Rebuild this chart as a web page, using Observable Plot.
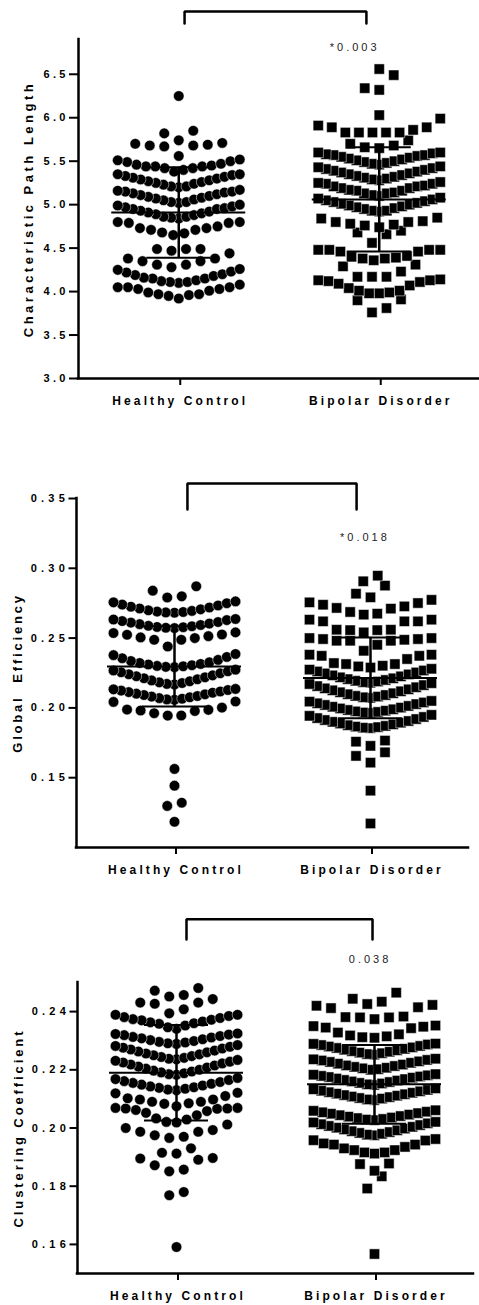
<!DOCTYPE html>
<html>
<head>
<meta charset="utf-8">
<script src="https://cdn.jsdelivr.net/npm/d3@7"></script>
<script src="https://cdn.jsdelivr.net/npm/@observablehq/plot@0.6"></script>
<style>
  body { margin: 0; background: #fff; }
  #root { width: 479px; }
  #root svg { display: block; }
</style>
</head>
<body>
<div id="root"></div>
<script>
// ---------- data ----------
const groups = ["Healthy Control", "Bipolar Disorder"];

const hcCPL = [
  3.92, 3.95, 3.96, 3.97, 3.97, 3.99, 4.01, 4.03, 4.03, 4.05, 4.05, 4.05, 4.08,
  4.10, 4.11, 4.11, 4.12, 4.13, 4.15, 4.15, 4.16, 4.18, 4.19, 4.20, 4.22, 4.23, 4.25, 4.26,
  4.28, 4.31, 4.31, 4.35, 4.35, 4.38, 4.38, 4.44,
  4.47, 4.49, 4.49, 4.49,
  4.65, 4.67, 4.68, 4.71, 4.71, 4.73, 4.73, 4.75, 4.79, 4.79, 4.80, 4.80,
  4.84, 4.85, 4.86, 4.86, 4.88, 4.89, 4.90, 4.91, 4.92, 4.93, 4.95, 4.95, 4.96, 4.97, 4.98, 4.99, 5.00,
  5.02, 5.03, 5.03, 5.05, 5.06, 5.07, 5.08, 5.09, 5.10, 5.11, 5.12, 5.13, 5.14, 5.15, 5.15, 5.16, 5.17,
  5.20, 5.21, 5.21, 5.23, 5.24, 5.25, 5.26, 5.27, 5.28, 5.29, 5.30, 5.31, 5.32, 5.33, 5.34, 5.35, 5.35,
  5.38, 5.40, 5.42, 5.42, 5.44, 5.44, 5.44, 5.45, 5.46, 5.47, 5.49, 5.50, 5.51, 5.52,
  5.56, 5.67, 5.68, 5.68, 5.69, 5.70, 5.71,
  5.74, 5.82, 5.85,
  6.25
];
const bdCPL = [
  3.76, 3.81, 3.90, 3.91,
  3.98, 3.98, 3.99, 4.01, 4.01, 4.04, 4.07, 4.09, 4.11, 4.12, 4.13, 4.13, 4.14,
  4.17, 4.17, 4.17, 4.23, 4.29, 4.31,
  4.36, 4.38, 4.38, 4.39, 4.40, 4.41, 4.46, 4.46, 4.48, 4.48, 4.48, 4.48,
  4.56, 4.66, 4.68, 4.70,
  4.74, 4.76, 4.77, 4.78, 4.80, 4.80, 4.81, 4.84, 4.85,
  4.92, 4.93, 4.93, 4.95, 4.96, 4.97, 4.98, 4.99, 5.00, 5.01, 5.02, 5.03, 5.04, 5.05, 5.06, 5.07, 5.08,
  5.10, 5.11, 5.13, 5.13, 5.14, 5.16, 5.16, 5.17, 5.19, 5.19, 5.21, 5.21, 5.22, 5.24, 5.24, 5.25, 5.26,
  5.28, 5.29, 5.30, 5.31, 5.32, 5.33, 5.34, 5.35, 5.36, 5.37, 5.38, 5.39, 5.40, 5.41, 5.42, 5.43, 5.44,
  5.46, 5.47, 5.48, 5.49, 5.50, 5.51, 5.52, 5.53, 5.54, 5.55, 5.56, 5.57, 5.57, 5.58, 5.59, 5.60, 5.60,
  5.65, 5.66, 5.68, 5.70, 5.74,
  5.83, 5.83, 5.83, 5.83, 5.83, 5.86, 5.89, 5.89, 5.91, 5.99,
  6.03, 6.32, 6.34, 6.49, 6.56
];

const hcGE = [
  0.1184, 0.1298, 0.1321, 0.1443, 0.1563,
  0.1945, 0.1946, 0.1962, 0.1978, 0.1981, 0.1986, 0.1988, 0.2002, 0.2043, 0.2046,
  0.2058, 0.2061, 0.2066, 0.2070, 0.2076, 0.2081, 0.2085, 0.2092, 0.2097, 0.2102, 0.2109, 0.2113, 0.2118, 0.2124, 0.2128, 0.2133, 0.2136,
  0.2168, 0.2172, 0.2178, 0.2183, 0.2191, 0.2197, 0.2205, 0.2212, 0.2219, 0.2227, 0.2233, 0.2241, 0.2248, 0.2255, 0.2262, 0.2268, 0.2274,
  0.2292, 0.2294, 0.2298, 0.2301, 0.2306, 0.2311, 0.2315, 0.2322, 0.2327, 0.2336, 0.2344, 0.2356, 0.2365, 0.2378, 0.2386,
  0.2440, 0.2488, 0.2488, 0.2500, 0.2505, 0.2514, 0.2524, 0.2526, 0.2536, 0.2541,
  0.2572, 0.2574, 0.2578, 0.2580, 0.2585, 0.2588, 0.2594, 0.2600, 0.2604, 0.2611, 0.2615, 0.2622, 0.2629, 0.2633, 0.2637,
  0.2682, 0.2684, 0.2687, 0.2690, 0.2695, 0.2699, 0.2706, 0.2712, 0.2719, 0.2725, 0.2734, 0.2740, 0.2750, 0.2756, 0.2763,
  0.2791, 0.2799, 0.2840, 0.2871
];
const bdGE = [
  0.1172, 0.1407, 0.1608, 0.1656, 0.1682, 0.1728, 0.1758, 0.1766,
  0.1855, 0.1858, 0.1862, 0.1866, 0.1871, 0.1876, 0.1882, 0.1888, 0.1894, 0.1900, 0.1906, 0.1913, 0.1920, 0.1927, 0.1935, 0.1943, 0.1950,
  0.1964, 0.1967, 0.1971, 0.1975, 0.1980, 0.1985, 0.1990, 0.1996, 0.2002, 0.2008, 0.2014, 0.2021, 0.2027, 0.2033, 0.2039, 0.2045, 0.2050,
  0.2072, 0.2076, 0.2081, 0.2086, 0.2092, 0.2098, 0.2105, 0.2112, 0.2119, 0.2126, 0.2133, 0.2140, 0.2148, 0.2156, 0.2163, 0.2171, 0.2177,
  0.2180, 0.2184, 0.2189, 0.2194, 0.2200, 0.2206, 0.2212, 0.2219, 0.2226, 0.2233, 0.2240, 0.2247, 0.2254, 0.2261, 0.2268, 0.2274, 0.2280,
  0.2289, 0.2297, 0.2302, 0.2314, 0.2314, 0.2321, 0.2350, 0.2373, 0.2373, 0.2381, 0.2381,
  0.2409, 0.2452, 0.2481, 0.2481, 0.2481, 0.2488, 0.2493, 0.2493, 0.2500, 0.2500,
  0.2541, 0.2557, 0.2557, 0.2560, 0.2560, 0.2620, 0.2620, 0.2620, 0.2632, 0.2632,
  0.2668, 0.2675, 0.2687, 0.2711, 0.2716, 0.2727, 0.2739, 0.2751, 0.2756, 0.2774,
  0.2792, 0.2818, 0.2876,
  0.2907, 0.2947
];

const hcCC = [
  0.1591, 0.1769, 0.1780,
  0.1851, 0.1857, 0.1872, 0.1891, 0.1895, 0.1897,
  0.1912, 0.1915, 0.1930,
  0.1966, 0.1970, 0.1975, 0.1987, 0.1987, 0.1993, 0.2000, 0.2012,
  0.2019, 0.2021, 0.2029, 0.2033, 0.2044, 0.2052, 0.2058, 0.2062, 0.2066, 0.2067, 0.2067, 0.2069, 0.2069,
  0.2075, 0.2083, 0.2085, 0.2090, 0.2090, 0.2098, 0.2098, 0.2102, 0.2110, 0.2119, 0.2121,
  0.2130, 0.2132, 0.2135, 0.2138, 0.2140, 0.2143, 0.2146, 0.2149, 0.2152, 0.2155, 0.2158, 0.2161, 0.2165, 0.2168, 0.2172,
  0.2183, 0.2185, 0.2188, 0.2191, 0.2194, 0.2197, 0.2200, 0.2204, 0.2208, 0.2211, 0.2215, 0.2218, 0.2222, 0.2225, 0.2228, 0.2231, 0.2234,
  0.2236, 0.2238, 0.2241, 0.2244, 0.2247, 0.2250, 0.2253, 0.2256, 0.2260, 0.2263, 0.2266, 0.2270, 0.2273, 0.2276, 0.2279, 0.2282, 0.2285,
  0.2289, 0.2291, 0.2294, 0.2296, 0.2299, 0.2302, 0.2305, 0.2308, 0.2311, 0.2313, 0.2316, 0.2319, 0.2321, 0.2323, 0.2325,
  0.2341, 0.2346, 0.2352, 0.2358, 0.2360, 0.2363, 0.2366, 0.2370, 0.2372, 0.2374, 0.2378, 0.2381, 0.2385, 0.2389, 0.2389,
  0.2394, 0.2408, 0.2427, 0.2431, 0.2431, 0.2443,
  0.2452, 0.2457, 0.2472, 0.2481
];
const bdCC = [
  0.1567, 0.1792, 0.1834,
  0.1853, 0.1876, 0.1878,
  0.1912, 0.1916, 0.1916, 0.1924, 0.1924, 0.1930, 0.1935, 0.1943, 0.1943, 0.1947, 0.1957, 0.1958, 0.1962,
  0.1975, 0.1977, 0.1980, 0.1983, 0.1986, 0.1989, 0.1992, 0.1995, 0.1998, 0.2001, 0.2004, 0.2007, 0.2010, 0.2013, 0.2016, 0.2019, 0.2021,
  0.2027, 0.2029, 0.2031, 0.2034, 0.2036, 0.2039, 0.2041, 0.2044, 0.2046, 0.2049, 0.2051, 0.2054, 0.2056, 0.2059, 0.2061,
  0.2096, 0.2098, 0.2101, 0.2103, 0.2106, 0.2108, 0.2111, 0.2113, 0.2116, 0.2118, 0.2121, 0.2123, 0.2126, 0.2128, 0.2131, 0.2133, 0.2136,
  0.2148, 0.2150, 0.2153, 0.2155, 0.2158, 0.2160, 0.2163, 0.2165, 0.2168, 0.2170, 0.2173, 0.2175, 0.2177, 0.2179, 0.2181, 0.2183, 0.2185,
  0.2200, 0.2202, 0.2205, 0.2207, 0.2210, 0.2213, 0.2215, 0.2218, 0.2221, 0.2224, 0.2227, 0.2229, 0.2232, 0.2234, 0.2236, 0.2238,
  0.2252, 0.2254, 0.2257, 0.2259, 0.2262, 0.2264, 0.2267, 0.2269, 0.2272, 0.2275, 0.2277, 0.2280, 0.2282, 0.2285, 0.2287, 0.2289, 0.2290,
  0.2310, 0.2312, 0.2315, 0.2318, 0.2322, 0.2328, 0.2343, 0.2345, 0.2348, 0.2350, 0.2352,
  0.2374, 0.2380, 0.2380, 0.2381, 0.2383, 0.2412, 0.2415, 0.2420, 0.2423,
  0.2426, 0.2434, 0.2444, 0.2465
];

// mean and SD shown by the error bars
const meanCPL = [4.91, 5.06],   sdCPL = [0.52, 0.60];
const meanGE  = [0.2297, 0.2215], sdGE = [0.0287, 0.0290];
const meanCC  = [0.2190, 0.2150], sdCC = [0.0164, 0.0135];

const cplTicks = [3.0, 3.5, 4.0, 4.5, 5.0, 5.5, 6.0, 6.5];
const geTicks  = [0.15, 0.20, 0.25, 0.30, 0.35];
const ccTicks  = [0.16, 0.18, 0.20, 0.22, 0.24];

const yLabels = ["Characteristic Path Length", "Global  Efficiency", "Clustering Coefficient"];
const pLabels = ["*0.003", "*0.018", "0.038"];

// ---------- layout helpers (GraphPad-like column scatter) ----------
const S_MAX = 14.5;   // max horizontal spacing between points in a row (px)
const W_MAX = 122;    // max row width (px)
const BIN_PX = 15;    // row height (px)

function scatterLayout(values, gi, binW, unitPx) {
  const sorted = values.slice().sort((a, b) => a - b);
  const rows = [];
  let cur = null;
  for (const v of sorted) {
    if (!cur || v >= cur.start + binW - 1e-12) { cur = {start: v, vals: []}; rows.push(cur); }
    cur.vals.push(v);
  }
  const out = [];
  for (const r of rows) {
    const n = r.vals.length;
    const s = n > 1 ? Math.min(S_MAX, W_MAX / (n - 1)) : 0;
    r.vals.forEach((v, k) => {
      let slot;
      if (n % 2 === 1) slot = k === 0 ? 0 : Math.ceil(k / 2) * (k % 2 ? -1 : 1);
      else slot = (Math.floor(k / 2) + 0.5) * (k % 2 ? 1 : -1);
      out.push({g: gi, v, x: gi + slot * s / unitPx});
    });
  }
  return out;
}

const FONT = "'Liberation Sans', Arial, Helvetica, sans-serif";

function panel(cfg) {
  const width = 479;
  const [mt, mr, mb, ml] = cfg.margins;
  const xDomain = [-0.5, 1.5];
  const unitPx = (width - ml - mr) / (xDomain[1] - xDomain[0]);
  const pxPerY = (cfg.height - mt - mb) / (cfg.yDomain[1] - cfg.yDomain[0]);
  const binW = BIN_PX / pxPerY;
  const pts = cfg.values.flatMap((vals, gi) => scatterLayout(vals, gi, binW, unitPx));
  const stats = cfg.means.map((m, i) => ({g: i, m, lo: m - cfg.sds[i], hi: m + cfg.sds[i]}));
  const meanHalf = 67 / unitPx, capHalf = 32 / unitPx;
  const b = cfg.bracket;
  const bracketPts = [{x: b.x1, y: b.yb}, {x: b.x1, y: b.yt}, {x: b.x2, y: b.yt}, {x: b.x2, y: b.yb}];

  const svg = Plot.plot({
    width, height: cfg.height,
    marginTop: mt, marginRight: mr, marginBottom: mb, marginLeft: ml,
    style: {fontFamily: FONT, fontSize: "11px", background: "#fff", color: "#000", overflow: "visible"},
    x: {domain: xDomain, label: null},
    y: {domain: cfg.yDomain, label: null},
    marks: [
      Plot.dot(pts.filter(d => d.g === 0), {x: "x", y: "v", r: 5.3, fill: "#000", stroke: "#fff", strokeWidth: 0.5}),
      Plot.dot(pts.filter(d => d.g === 1), {x: "x", y: "v", r: 5.8, symbol: "square", fill: "#000", stroke: "#fff", strokeWidth: 0.5}),
      Plot.ruleY(stats, {y: "m", x1: d => d.g - meanHalf, x2: d => d.g + meanHalf, stroke: "#000", strokeWidth: 2}),
      Plot.ruleX(stats, {x: "g", y1: "lo", y2: "hi", stroke: "#000", strokeWidth: 2.5}),
      Plot.ruleY(stats, {y: "lo", x1: d => d.g - capHalf, x2: d => d.g + capHalf, stroke: "#000", strokeWidth: 2}),
      Plot.ruleY(stats, {y: "hi", x1: d => d.g - capHalf, x2: d => d.g + capHalf, stroke: "#000", strokeWidth: 2}),
      Plot.ruleX([xDomain[0]], {y1: cfg.yDomain[0], y2: cfg.yDomain[1], stroke: "#000", strokeWidth: 2.5, strokeLinecap: "square"}),
      Plot.ruleY([cfg.yDomain[0]], {x1: xDomain[0], x2: xDomain[1], stroke: "#000", strokeWidth: 2.5, strokeLinecap: "square"}),
      Plot.axisY({ticks: cfg.yTicks, tickFormat: cfg.tickFmt, tickSize: cfg.tickSize, tickPadding: cfg.tickPad,
        fontSize: 11, fontWeight: "bold", strokeWidth: 2, label: null}),
      Plot.axisX({ticks: [0, 1], tickFormat: i => groups[i], tickSize: 7, tickPadding: 10.5,
        fontSize: 12, fontWeight: "bold", strokeWidth: 2, label: null, dx: 1.5}),
      Plot.line(bracketPts, {x: "x", y: "y", stroke: "#000", strokeWidth: 2.5, strokeLinejoin: "miter"}),
      Plot.text([cfg.pLabel], {x: cfg.pPos[0], y: cfg.pPos[1], text: d => d, fontSize: 11, fill: "#222",
        textAnchor: "middle", lineAnchor: "middle", dx: 1.5}),
      Plot.text([cfg.yLabel], {frameAnchor: "left", dx: cfg.labelDx, rotate: -90, text: d => d,
        fontSize: 13, fontWeight: "bold", textAnchor: "middle", lineAnchor: "middle"})
    ]
  });
  const s = d3.select(svg);
  s.selectAll('g[aria-label="y-axis tick label"]').style("letter-spacing", cfg.tickLS + "px").style("font-weight", "bold");
  s.selectAll('g[aria-label="x-axis tick label"]').style("letter-spacing", "3.1px").style("font-weight", "bold");
  s.selectAll("text").filter(function () { return this.textContent === cfg.pLabel; })
    .style("letter-spacing", "3px");
  s.selectAll("text").filter(function () { return this.textContent === cfg.yLabel; })
    .style("letter-spacing", cfg.labelLS + "px").style("font-weight", "bold").style("white-space", "pre");
  return svg;
}

const root = document.getElementById("root");
root.appendChild(panel({
  values: [hcCPL, bdCPL], means: meanCPL, sds: sdCPL,
  yDomain: [3.0, 6.9], yTicks: cplTicks, tickFmt: d3.format(".1f"),
  yLabel: yLabels[0], pLabel: pLabels[0], pPos: [0.87, 6.808],
  bracket: {x1: 0.029, x2: 0.936, yt: 7.222, yb: 7.084},
  height: 420, margins: [39, 0, 42, 78], labelDx: -50,
  tickSize: 9, tickPad: 0.6, tickLS: 3.4, labelLS: 3.5
}));
root.appendChild(panel({
  values: [hcGE, bdGE], means: meanGE, sds: sdGE,
  yDomain: [0.10, 0.35], yTicks: geTicks, tickFmt: d3.format(".2f"),
  yLabel: yLabels[1], pLabel: pLabels[1], pPos: [0.964, 0.3221],
  bracket: {x1: 0.066, x2: 0.929, yt: 0.3607, yb: 0.3421},
  height: 460, margins: [78, 11, 33, 76], labelDx: -59,
  tickSize: 7.5, tickPad: 0, tickLS: 4.2, labelLS: 2.8
}));
root.appendChild(panel({
  values: [hcCC, bdCC], means: meanCC, sds: sdCC,
  yDomain: [0.15, 0.25], yTicks: ccTicks, tickFmt: d3.format(".2f"),
  yLabel: yLabels[2], pLabel: pLabels[2], pPos: [0.97, 0.2579],
  bracket: {x1: 0.0505, x2: 0.99, yt: 0.2717, yb: 0.2648},
  height: 425, margins: [102, 6, 32, 77], labelDx: -59,
  tickSize: 7.5, tickPad: 0, tickLS: 4.2, labelLS: 2.9
}));
</script>
</body>
</html>
